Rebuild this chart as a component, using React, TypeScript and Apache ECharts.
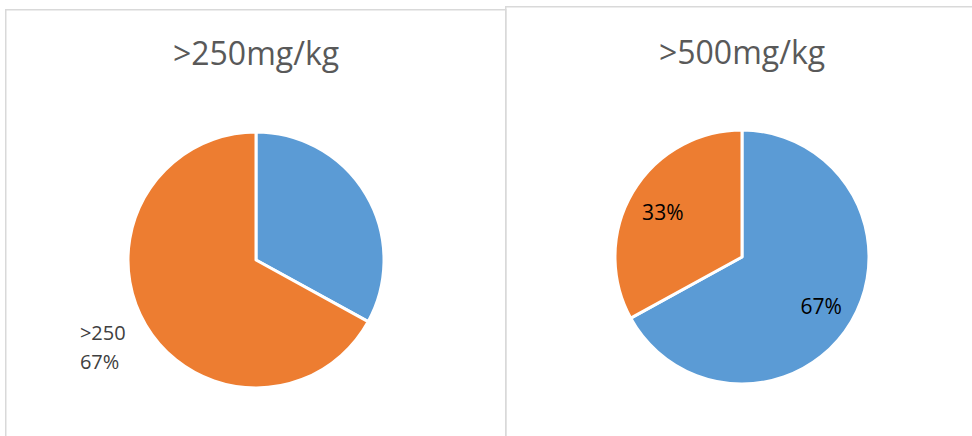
import React, { useEffect, useRef } from "react";
import * as echarts from "echarts";

// Share of samples above each threshold
const categories250 = ["≤250", ">250"];
const values250 = [33, 67];
const categories500 = ["≥500", "<500"];
const values500 = [67, 33];
const titles = [">250mg/kg", ">500mg/kg"];

const BLUE = "#5B9BD5";
const ORANGE = "#ED7D31";
const FONT = "'Open Sans', 'Noto Sans', sans-serif";

export default function App() {
  const ref = useRef<HTMLDivElement>(null);

  useEffect(() => {
    if (!ref.current) return;
    const chart = echarts.init(ref.current, undefined, { renderer: "svg" });

    const leftData = categories250.map((name, i) => ({ name, value: values250[i] }));
    const rightData = categories500.map((name, i) => ({ name, value: values500[i] }));

    const titleStyle = { fontFamily: FONT, fontSize: 32, fontWeight: "normal", color: "#595959" };

    chart.setOption({
      animation: false,
      backgroundColor: "#ffffff",
      color: [BLUE, ORANGE],
      title: [
        { text: titles[0], left: 256, top: 36, textAlign: "center", padding: 0, textStyle: titleStyle },
        { text: titles[1], left: 742, top: 35, textAlign: "center", padding: 0, textStyle: titleStyle },
      ],
      graphic: [
        {
          type: "rect",
          silent: true,
          shape: { x: 5.75, y: 9.75, width: 500, height: 500 },
          style: { fill: "none", stroke: "#d9d9d9", lineWidth: 1.5 },
        },
        {
          type: "rect",
          silent: true,
          shape: { x: 505.75, y: 6.75, width: 500, height: 500 },
          style: { fill: "none", stroke: "#d9d9d9", lineWidth: 1.5 },
        },
      ],
      series: [
        {
          type: "pie",
          center: [256, 260],
          radius: [0, 128],
          startAngle: 90,
          clockwise: true,
          avoidLabelOverlap: false,
          itemStyle: { borderColor: "#ffffff", borderWidth: 3 },
          data: leftData.map((d, i) => ({
            ...d,
            label: { show: i === 1 },
          })),
          label: {
            position: "outside",
            distanceToLabelLine: 0,
            formatter: (p: any) => `{a|${p.name}}\n{a|${p.value}%}`,
            padding: [22, 0, 0, 0],
            rich: {
              a: {
                fontFamily: FONT,
                fontSize: 20,
                lineHeight: 29,
                color: "#404040",
                width: 47,
                align: "left",
              },
            },
          },
          labelLine: { show: false, length: 22, length2: 0 },
          emphasis: { disabled: true },
        },
        {
          type: "pie",
          center: [742, 257],
          radius: [0, 127],
          startAngle: 90,
          clockwise: true,
          itemStyle: { borderColor: "#ffffff", borderWidth: 3 },
          data: rightData,
          label: { show: false },
          labelLine: { show: false },
          emphasis: { disabled: true },
        },
        {
          // transparent twin of the right pie, only to place the percentages further out
          type: "pie",
          center: [742, 259],
          radius: [0, 178],
          startAngle: 90,
          clockwise: true,
          silent: true,
          itemStyle: { color: "transparent", borderWidth: 0 },
          data: rightData,
          label: {
            show: true,
            position: "inside",
            formatter: (p: any) => `${p.value}%`,
            fontFamily: FONT,
            fontSize: 21,
            color: "#000000",
          },
          labelLine: { show: false },
          emphasis: { disabled: true },
          z: 5,
        },
      ],
    });

    return () => chart.dispose();
  }, []);

  return (
    <div
      ref={ref}
      style={{ position: "absolute", left: 0, top: 0, width: 972, height: 436 }}
    />
  );
}
